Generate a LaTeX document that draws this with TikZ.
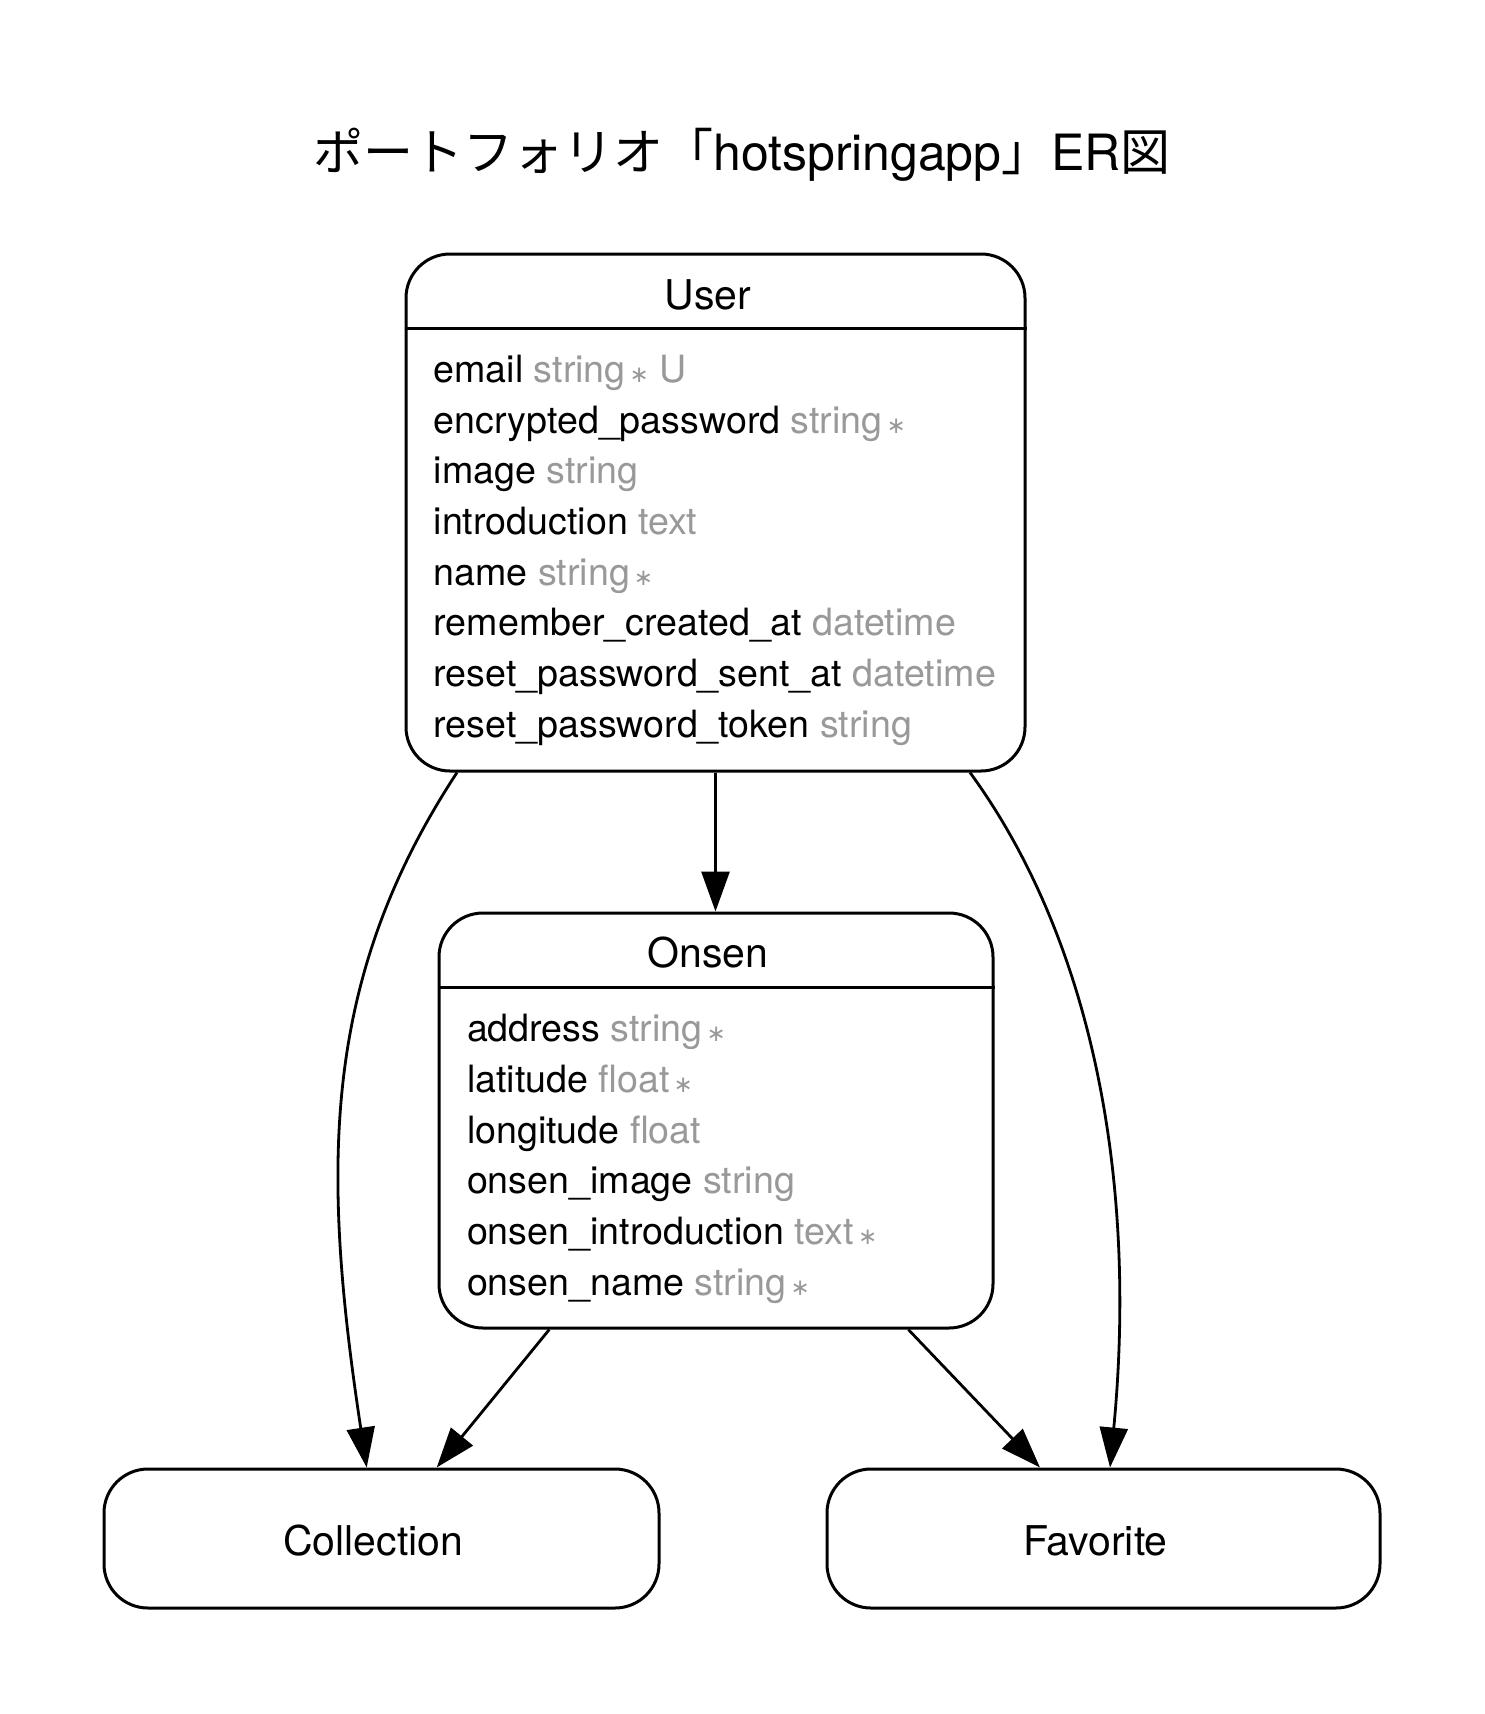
\documentclass[tikz,border=0pt]{standalone}
\usepackage{fontspec}
\setmainfont{TeX Gyre Heros}
\newfontfamily\cjkfont{Noto Sans CJK JP}
\newfontfamily\symfont{DejaVu Sans}
\usetikzlibrary{arrows.meta}
\definecolor{attrgray}{HTML}{999999}
\newcommand{\typ}[1]{\textcolor{attrgray}{#1}}
\newcommand{\req}{\textcolor{attrgray}{\hspace{4pt}{\symfont\fontsize{23}{23}\selectfont ∗}}}
\tikzset{
  entity/.style={draw, line width=3pt, rounded corners=44pt, inner sep=0pt},
  sepline/.style={line width=3pt},
  attr/.style={anchor=base west, inner sep=0pt, font=\fontsize{37.6}{45}\selectfont},
  ename/.style={anchor=base, inner sep=0pt, font=\fontsize{41}{49}\selectfont},
  rel/.style={line width=2.8pt, -{Triangle[length=40pt,width=28pt]}},
  titletext/.style={anchor=base west, inner sep=0pt, font=\fontsize{50}{60}\selectfont}
}
\begin{document}
\begin{tikzpicture}[x=1pt,y=-1pt]
\fill[white] (0,0) rectangle (1484,1714);
\useasboundingbox (0,0) rectangle (1484,1714);

% title
\node[titletext] (title) at (313,170) {{\cjkfont ポートフォリオ「}hotspringapp{\cjkfont 」}ER{\cjkfont 図}};

% entity boxes
\node[entity, minimum width=619pt, minimum height=517pt] (User) at (715.5,512.5) {};
\node[entity, minimum width=554pt, minimum height=415pt] (Onsen) at (716,1120.5) {};
\node[entity, minimum width=555pt, minimum height=139pt] (Collection) at (381.5,1538.5) {};
\node[entity, minimum width=553pt, minimum height=139pt] (Favorite) at (1103.5,1538.5) {};

% separators
\draw[sepline] (User.west |- 0,328.3) -- (User.east |- 0,328.3);
\draw[sepline] (Onsen.west |- 0,987.5) -- (Onsen.east |- 0,987.5);

% User
\node[ename] (UserName) at (708,309) {User};
\node[attr] (u1) at (433.5,382.3) {email \typ{string}\req\ \typ{U}};
\node[attr] (u2) at (433.5,433.0) {encrypted\_password \typ{string}\req};
\node[attr] (u3) at (433.5,483.7) {image \typ{string}};
\node[attr] (u4) at (433.5,534.4) {introduction \typ{text}};
\node[attr] (u5) at (433.5,585.1) {name \typ{string}\req};
\node[attr] (u6) at (433.5,635.8) {remember\_created\_at \typ{datetime}};
\node[attr] (u7) at (433.5,686.5) {reset\_password\_sent\_at \typ{datetime}};
\node[attr] (u8) at (433.5,737.2) {reset\_password\_token \typ{string}};

% Onsen
\node[ename] (OnsenName) at (708,967.7) {Onsen};
\node[attr] (o1) at (466.8,1041.7) {address \typ{string}\req};
\node[attr] (o2) at (466.8,1092.4) {latitude \typ{float}\req};
\node[attr] (o3) at (466.8,1143.1) {longitude \typ{float}};
\node[attr] (o4) at (466.8,1193.8) {onsen\_image \typ{string}};
\node[attr] (o5) at (466.8,1244.5) {onsen\_introduction \typ{text}\req};
\node[attr] (o6) at (466.8,1295.2) {onsen\_name \typ{string}\req};

% Collection / Favorite labels
\node[ename] (CollectionName) at (373.3,1555) {Collection};
\node[ename] (FavoriteName) at (1095.3,1555) {Favorite};

% relations
\draw[rel] (User.south) -- (User.south |- Onsen.north);
\draw[rel] (549.3,0 |- Onsen.south) -- (436.7,0 |- Collection.north);
\draw[rel] (908.3,0 |- Onsen.south) -- (1040,0 |- Favorite.north);
\draw[rel] (457,0 |- User.south) .. controls (320.3,981) and (321.7,1170.3) .. (366.7,0 |- Collection.north);
\draw[rel] (970,0 |- User.south) .. controls (1087.6,933.5) and (1138.5,1168.8) .. (1110,0 |- Favorite.north);
\end{tikzpicture}
\end{document}
